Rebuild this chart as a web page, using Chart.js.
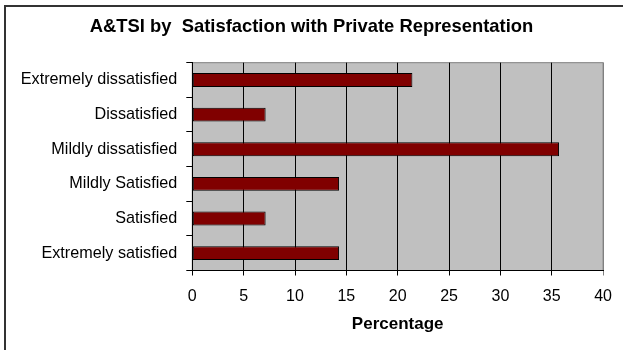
<!DOCTYPE html>
<html>
<head>
<meta charset="utf-8">
<script src="https://cdn.jsdelivr.net/npm/chart.js@4/dist/chart.umd.min.js"></script>
<style>
  html, body { margin: 0; padding: 0; background: #fff; }
  #wrap { width: 623px; height: 350px; }
</style>
</head>
<body>
<div id="wrap"><canvas id="chart" width="623" height="350"></canvas></div>
<script>
const categories = [
  'Extremely dissatisfied',
  'Dissatisfied',
  'Mildly dissatisfied',
  'Mildly Satisfied',
  'Satisfied',
  'Extremely satisfied'
];
const percentages = [21.43, 7.14, 35.71, 14.29, 7.14, 14.29];
const xTicks = [0, 5, 10, 15, 20, 25, 30, 35, 40];

const font = "'Liberation Sans', Arial, sans-serif";

// grey plot area, grey frame and the outer chart border
const plotBackground = {
  id: 'plotBackground',
  beforeDraw(chart) {
    const { ctx, chartArea: a } = chart;
    ctx.save();
    ctx.fillStyle = '#c0c0c0';
    ctx.fillRect(a.left, a.top, a.right - a.left, a.bottom - a.top);
    ctx.strokeStyle = '#808080';
    ctx.lineWidth = 1;
    ctx.strokeRect(a.left, a.top, a.right - a.left, a.bottom - a.top);

    ctx.strokeStyle = '#333';
    ctx.lineWidth = 2;
    ctx.beginPath();
    ctx.moveTo(5, 350);
    ctx.lineTo(5, 6);
    ctx.lineTo(623, 6);
    ctx.stroke();
    ctx.restore();
  }
};

new Chart(document.getElementById('chart'), {
  type: 'bar',
  data: {
    labels: categories,
    datasets: [{
      data: percentages,
      backgroundColor: '#800000',
      borderColor: '#000',
      borderWidth: 1,
      borderSkipped: false,
      barPercentage: 0.8,
      categoryPercentage: 0.5
    }]
  },
  options: {
    indexAxis: 'y',
    responsive: false,
    animation: false,
    layout: { padding: { left: 15.3, right: 15.3, top: 0, bottom: 0 } },
    plugins: {
      legend: { display: false },
      tooltip: { enabled: false },
      title: {
        display: true,
        text: 'A&TSI by  Satisfaction with Private Representation',
        color: '#000',
        font: { family: font, size: 18.4, weight: 'bold', lineHeight: 1.2 },
        padding: { top: 16, bottom: 24.6 }
      }
    },
    scales: {
      x: {
        min: 0,
        max: 40,
        afterBuildTicks(scale) {
          scale.ticks = xTicks.map(v => ({ value: v }));
        },
        afterFit(scale) { scale.height = 79.5; },
        grid: {
          color: ctx => (ctx.tick && ctx.tick.value === 40 ? '#808080' : '#000'),
          lineWidth: 1,
          tickLength: 5,
          drawTicks: true
        },
        border: { color: '#000', width: 1 },
        ticks: {
          color: '#000',
          padding: 11,
          maxRotation: 0,
          font: { family: font, size: 16 }
        },
        title: {
          display: true,
          text: 'Percentage',
          color: '#000',
          font: { family: font, size: 17, weight: 'bold', lineHeight: 1.2 },
          padding: { top: 0, bottom: 15 }
        }
      },
      y: {
        afterFit(scale) { scale.width = 177; },
        grid: {
          drawOnChartArea: false,
          drawTicks: true,
          tickLength: 6,
          color: '#000'
        },
        border: { color: '#000', width: 1 },
        ticks: {
          color: '#000',
          padding: 9,
          font: { family: font, size: 16.2 }
        }
      }
    }
  },
  plugins: [plotBackground]
});
</script>
</body>
</html>
